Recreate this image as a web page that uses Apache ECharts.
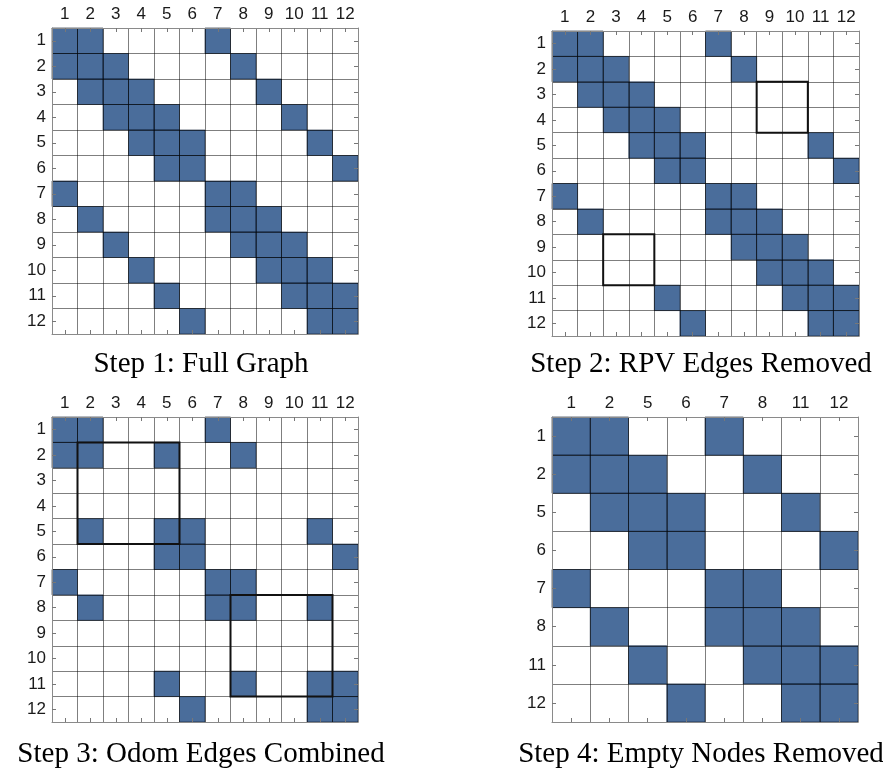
<!DOCTYPE html>
<html>
<head>
<meta charset="utf-8">
<style>
  html, body { margin: 0; padding: 0; background: #fff; }
  #chart { width: 883px; height: 768px; }
</style>
<script src="https://cdn.jsdelivr.net/npm/echarts@6/dist/echarts.min.js"></script>
</head>
<body>
<div id="chart"></div>
<script>
// Node labels for the full graph and for the reduced graph
const nodes12 = ['1', '2', '3', '4', '5', '6', '7', '8', '9', '10', '11', '12'];
const nodes8 = ['1', '2', '5', '6', '7', '8', '11', '12'];

// Adjacency lists: for each row node, the column nodes that are connected
const step1Adj = [
  [1, 2, 7], [1, 2, 3, 8], [2, 3, 4, 9], [3, 4, 5, 10], [4, 5, 6, 11], [5, 6, 12],
  [1, 7, 8], [2, 7, 8, 9], [3, 8, 9, 10], [4, 9, 10, 11], [5, 10, 11, 12], [6, 11, 12]
];
const step2Adj = [
  [1, 2, 7], [1, 2, 3, 8], [2, 3, 4], [3, 4, 5], [4, 5, 6, 11], [5, 6, 12],
  [1, 7, 8], [2, 7, 8, 9], [8, 9, 10], [9, 10, 11], [5, 10, 11, 12], [6, 11, 12]
];
const step3Adj = [
  [1, 2, 7], [1, 2, 5, 8], [], [], [2, 5, 6, 11], [5, 6, 12],
  [1, 7, 8], [2, 7, 8, 11], [], [], [5, 8, 11, 12], [6, 11, 12]
];
const step4Adj = [
  [1, 2, 7], [1, 2, 5, 8], [2, 5, 6, 11], [5, 6, 12],
  [1, 7, 8], [2, 7, 8, 11], [5, 8, 11, 12], [6, 11, 12]
];

// Highlighted blocks: [fromCol, fromRow, toCol, toRow] as node labels
const step2Boxes = [['9', '3', '10', '4'], ['3', '9', '4', '10']];
const step3Boxes = [['2', '2', '5', '5'], ['8', '8', '11', '11']];

const titles = [
  'Step 1: Full Graph',
  'Step 2: RPV Edges Removed',
  'Step 3: Odom Edges Combined',
  'Step 4: Empty Nodes Removed'
];

const BLUE = '#4a6d9b';

function cellsFrom(adj, labels) {
  const out = [];
  adj.forEach(function (cols, r) {
    cols.forEach(function (c) {
      out.push([labels.indexOf(String(c)), r]);
    });
  });
  return out;
}
function boxesFrom(boxes, labels) {
  return boxes.map(function (b) {
    return [labels.indexOf(b[0]), labels.indexOf(b[1]), labels.indexOf(b[2]), labels.indexOf(b[3])];
  });
}

const panels = [
  { labels: nodes12, cells: cellsFrom(step1Adj, nodes12), boxes: [], grid: { left: 52, top: 28, width: 306, height: 306 }, titleX: 196, titleY: 345 },
  { labels: nodes12, cells: cellsFrom(step2Adj, nodes12), boxes: boxesFrom(step2Boxes, nodes12), grid: { left: 552, top: 31, width: 307, height: 305 }, titleX: 696, titleY: 345 },
  { labels: nodes12, cells: cellsFrom(step3Adj, nodes12), boxes: boxesFrom(step3Boxes, nodes12), grid: { left: 52, top: 417, width: 306, height: 305 }, titleX: 196, titleY: 735 },
  { labels: nodes8, cells: cellsFrom(step4Adj, nodes8), boxes: [], grid: { left: 552, top: 417, width: 306, height: 305 }, titleX: 696, titleY: 735 }
];

const grids = [], xAxes = [], yAxes = [], series = [], titleList = [];
const labelFont = { fontFamily: 'Liberation Sans', fontSize: 17, color: '#1a1a1a' };
const lineCol = '#8a8a8a';

panels.forEach(function (p, i) {
  grids.push(Object.assign({ containLabel: false }, p.grid));
  titleList.push({
    text: titles[i], left: p.titleX, top: p.titleY, textAlign: 'center',
    textStyle: { fontFamily: 'Liberation Serif', fontSize: 29, fontWeight: 'normal', color: '#000' }
  });
  const common = {
    type: 'category', data: p.labels, gridIndex: i, z: 5,
    axisLine: { show: true, lineStyle: { color: lineCol, width: 1 } },
    axisTick: { show: true, inside: true, alignWithLabel: true, interval: 0, length: 4, lineStyle: { color: '#777' } }
  };
  // top x axis with labels and cell borders
  xAxes.push(Object.assign({}, common, {
    position: 'top',
    axisLabel: Object.assign({ interval: 0, margin: 5 }, labelFont),
    splitLine: { show: true, interval: 0, lineStyle: { color: 'rgba(0,0,0,0.5)', width: 1 } }
  }));
  // bottom x axis: frame and ticks only
  xAxes.push(Object.assign({}, common, {
    position: 'bottom', axisLabel: { show: false }, splitLine: { show: false }
  }));
  yAxes.push(Object.assign({}, common, {
    position: 'left', inverse: true,
    axisLabel: Object.assign({ interval: 0, margin: 6 }, labelFont),
    splitLine: { show: true, interval: 0, lineStyle: { color: 'rgba(0,0,0,0.5)', width: 1 } }
  }));
  yAxes.push(Object.assign({}, common, {
    position: 'right', inverse: true, axisLabel: { show: false }, splitLine: { show: false }
  }));

  // connected node pairs as filled cells
  series.push({
    type: 'custom', xAxisIndex: 2 * i, yAxisIndex: 2 * i, z: 2,
    encode: { x: 0, y: 1 },
    data: p.cells,
    renderItem: function (params, api) {
      const c = api.coord([api.value(0), api.value(1)]);
      const s = api.size([1, 1]);
      return {
        type: 'rect',
        shape: { x: c[0] - s[0] / 2, y: c[1] - s[1] / 2, width: s[0], height: s[1] },
        style: { fill: BLUE, stroke: 'rgba(10,25,45,0.6)', lineWidth: 1 }
      };
    }
  });
  // outlined blocks
  if (p.boxes.length) {
    series.push({
      type: 'custom', xAxisIndex: 2 * i, yAxisIndex: 2 * i, z: 10,
      encode: { x: [0, 2], y: [1, 3] },
      data: p.boxes,
      renderItem: function (params, api) {
        const a = api.coord([api.value(0), api.value(1)]);
        const b = api.coord([api.value(2), api.value(3)]);
        const s = api.size([1, 1]);
        return {
          type: 'rect', z2: 10,
          shape: { x: a[0] - s[0] / 2, y: a[1] - s[1] / 2, width: b[0] - a[0] + s[0], height: b[1] - a[1] + s[1] },
          style: { fill: null, stroke: '#111', lineWidth: 2 }
        };
      }
    });
  }
});

const chart = echarts.init(document.getElementById('chart'), null, { renderer: 'canvas' });
chart.setOption({
  animation: false,
  backgroundColor: '#fff',
  title: titleList,
  grid: grids,
  xAxis: xAxes,
  yAxis: yAxes,
  series: series
});
</script>
</body>
</html>
